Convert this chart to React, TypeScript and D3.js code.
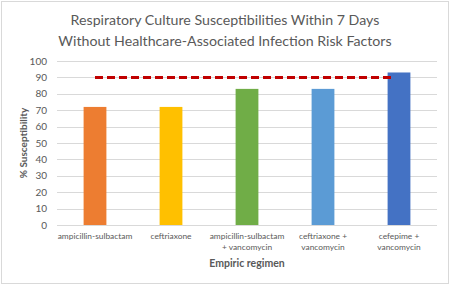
import { useEffect, useRef } from "react";
import * as d3 from "d3";

const regimens = [
  "ampicillin-sulbactam",
  "ceftriaxone",
  "ampicillin-sulbactam + vancomycin",
  "ceftriaxone + vancomycin",
  "cefepime + vancomycin",
];
const labelLines = [
  ["ampicillin-sulbactam"],
  ["ceftriaxone"],
  ["ampicillin-sulbactam", "+ vancomycin"],
  ["ceftriaxone +", "vancomycin"],
  ["cefepime +", "vancomycin"],
];
const susceptibility = [72, 72, 83, 83, 93];
const barColors = ["#ED7D31", "#FFC000", "#70AD47", "#5B9BD5", "#4472C4"];
const targetValue = 90;
const yTicks = [0, 10, 20, 30, 40, 50, 60, 70, 80, 90, 100];
const titleLines = [
  "Respiratory Culture Susceptibilities Within 7 Days",
  "Without Healthcare-Associated Infection Risk Factors",
];

export default function App() {
  const svgRef = useRef<SVGSVGElement>(null);

  useEffect(() => {
    const W = 450, H = 285;
    const m = { left: 57, right: 13, top: 61, bottom: 60 };
    const svg = d3.select(svgRef.current);
    svg.selectAll("*").remove();
    const font = "Lato, 'Open Sans', sans-serif";
    const txt = "#595959";

    svg.append("rect").attr("x", 1.5).attr("y", 1.5).attr("width", W - 3).attr("height", H - 3)
      .attr("fill", "#fff").attr("stroke", "#d9d9d9");

    const x = d3.scaleBand().domain(regimens).range([m.left, W - m.right]).paddingInner(0.7).paddingOuter(0.35);
    const y = d3.scaleLinear().domain([0, 100]).range([H - m.bottom, m.top]);

    // title
    svg.append("g").selectAll("text").data(titleLines).join("text")
      .attr("x", W / 2).attr("y", (d, i) => 25 + i * 21)
      .attr("text-anchor", "middle").attr("font-family", font).attr("font-size", 14.2)
      .attr("fill", txt).text(d => d);

    // gridlines
    svg.append("g").selectAll("line").data(yTicks).join("line")
      .attr("x1", m.left).attr("x2", W - m.right)
      .attr("y1", d => Math.round(y(d)) + 0.5).attr("y2", d => Math.round(y(d)) + 0.5)
      .attr("stroke", "#d9d9d9").attr("stroke-width", 1);

    // y labels
    svg.append("g").selectAll("text").data(yTicks).join("text")
      .attr("x", 47).attr("y", d => y(d)).attr("dy", "0.35em")
      .attr("text-anchor", "end").attr("font-family", font).attr("font-size", 10)
      .attr("fill", txt).text(d => d);

    // bars
    svg.append("g").selectAll("rect").data(susceptibility).join("rect")
      .attr("x", (d, i) => x(regimens[i])!)
      .attr("width", x.bandwidth())
      .attr("y", d => y(d))
      .attr("height", d => y(0) - y(d))
      .attr("fill", (d, i) => barColors[i]);

    // target line
    const first = x(regimens[0])! + x.bandwidth() / 2;
    const last = x(regimens[regimens.length - 1])! + x.bandwidth() / 2 - 5;
    svg.append("line")
      .attr("x1", first).attr("x2", last)
      .attr("y1", y(targetValue)).attr("y2", y(targetValue))
      .attr("stroke", "#C00000").attr("stroke-width", 3).attr("stroke-dasharray", "8,4");

    // category labels
    const cat = svg.append("g").selectAll("text").data(labelLines).join("text")
      .attr("text-anchor", "middle").attr("font-family", font).attr("font-size", 8.4)
      .attr("fill", txt);
    cat.each(function (lines, i) {
      const cx = x(regimens[i])! + x.bandwidth() / 2;
      d3.select(this).selectAll("tspan").data(lines).join("tspan")
        .attr("x", cx).attr("y", (d, j) => 238.5 + j * 11.5).text(d => d);
    });

    // axis titles
    svg.append("text").attr("x", (m.left + W - m.right) / 2).attr("y", 267)
      .attr("text-anchor", "middle").attr("font-family", font).attr("font-size", 10.5)
      .attr("font-weight", "bold").attr("fill", txt).text("Empiric regimen");
    svg.append("text").attr("transform", `translate(27,${(y(0) + y(100)) / 2}) rotate(-90)`)
      .attr("text-anchor", "middle").attr("font-family", font).attr("font-size", 10)
      .attr("font-weight", "bold").attr("fill", txt).text("% Susceptibility");
  }, []);

  return (
    <svg ref={svgRef} width={450} height={285}
      style={{ position: "absolute", left: 0, top: 0, display: "block" }} />
  );
}
